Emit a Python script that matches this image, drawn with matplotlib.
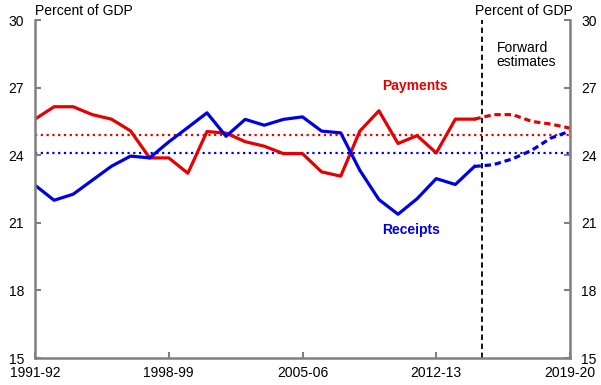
import matplotlib
matplotlib.use("Agg")
import matplotlib.pyplot as plt

plt.rcParams['font.family'] = ['Liberation Sans', 'DejaVu Sans']

# Financial years 1991-92 .. 2019-20
years = [f"{y}-{str(y + 1)[-2:]}" for y in range(1991, 2020)]

# Payments / receipts (% of GDP); actuals up to 2014-15, then forward estimates
payments = [25.6, 26.15, 26.15, 25.8, 25.6, 25.08, 23.88, 23.88, 23.2, 25.05,
            24.98, 24.6, 24.4, 24.07, 24.07, 23.26, 23.07, 25.07, 25.97, 24.52,
            24.87, 24.1, 25.6, 25.6]
payments_fe = [25.6, 25.8, 25.8, 25.5, 25.38, 25.2]

receipts = [22.67, 22.0, 22.27, 22.89, 23.51, 23.96, 23.88, 24.59, 25.23, 25.88,
            24.84, 25.59, 25.33, 25.59, 25.7, 25.07, 24.99, 23.33, 22.03, 21.38,
            22.07, 22.96, 22.7, 23.5]
receipts_fe = [23.5, 23.58, 23.84, 24.22, 24.76, 25.07]

payments_avg = 24.9
receipts_avg = 24.1

tick_labels = ["1991-92", "1998-99", "2005-06", "2012-13", "2019-20"]

red = "#E60000"
blue = "#0000E6"
grey = "#808080"

fig = plt.figure(figsize=(6.01, 3.85), dpi=100)
ax = fig.add_axes([35 / 601, 1 - 358 / 385, 535 / 601, 338 / 385])

x_act = list(range(len(payments)))
x_fe = list(range(len(payments) - 1, len(years)))

ax.axhline(payments_avg, color=red, lw=1.6, ls=(0, (1, 1.6)))
ax.axhline(receipts_avg, color=blue, lw=1.6, ls=(0, (1, 1.6)))

ax.plot(x_act, payments, color=red, lw=2.3, solid_joinstyle='round')
ax.plot(x_act, receipts, color=blue, lw=2.3, solid_joinstyle='round')
ax.plot(x_fe, payments_fe, color=red, lw=2.3, ls=(0, (2.0, 1.2)))
ax.plot(x_fe, receipts_fe, color=blue, lw=2.3, ls=(0, (2.0, 1.2)))

ax.axvline(23.4, color="black", lw=1.3, ls=(0, (3, 2)))

ax.set_xlim(0, len(years) - 1)
ax.set_ylim(15, 30)
ax.set_yticks(range(15, 31, 3))
ax.set_xticks([years.index(t) for t in tick_labels])
ax.set_xticklabels(tick_labels)

ax.spines["top"].set_visible(False)
for side in ["left", "right", "bottom"]:
    ax.spines[side].set_color(grey)
    ax.spines[side].set_linewidth(1.8)

ax.tick_params(axis='both', direction='in', length=4, width=1.5, color=grey,
               labelsize=10, labelcolor='black')
ax.tick_params(axis='y', right=True, labelright=True, pad=8)
ax.tick_params(axis='x', pad=6)

ax.text(0, 1.005, "Percent of GDP", transform=ax.transAxes, ha='left',
        va='bottom', fontsize=10)
ax.text(1.006, 1.005, "Percent of GDP", transform=ax.transAxes, ha='right',
        va='bottom', fontsize=10)
ax.text(24.15, 29.05, "Forward\nestimates", ha='left', va='top', fontsize=10,
        linespacing=0.95)
ax.text(19.9, 27.07, "Payments", color=red, fontweight='bold', fontsize=10,
        ha='center', va='center')
ax.text(19.7, 20.7, "Receipts", color=blue, fontweight='bold', fontsize=10,
        ha='center', va='center')

fig.savefig("out.png", dpi=100)
